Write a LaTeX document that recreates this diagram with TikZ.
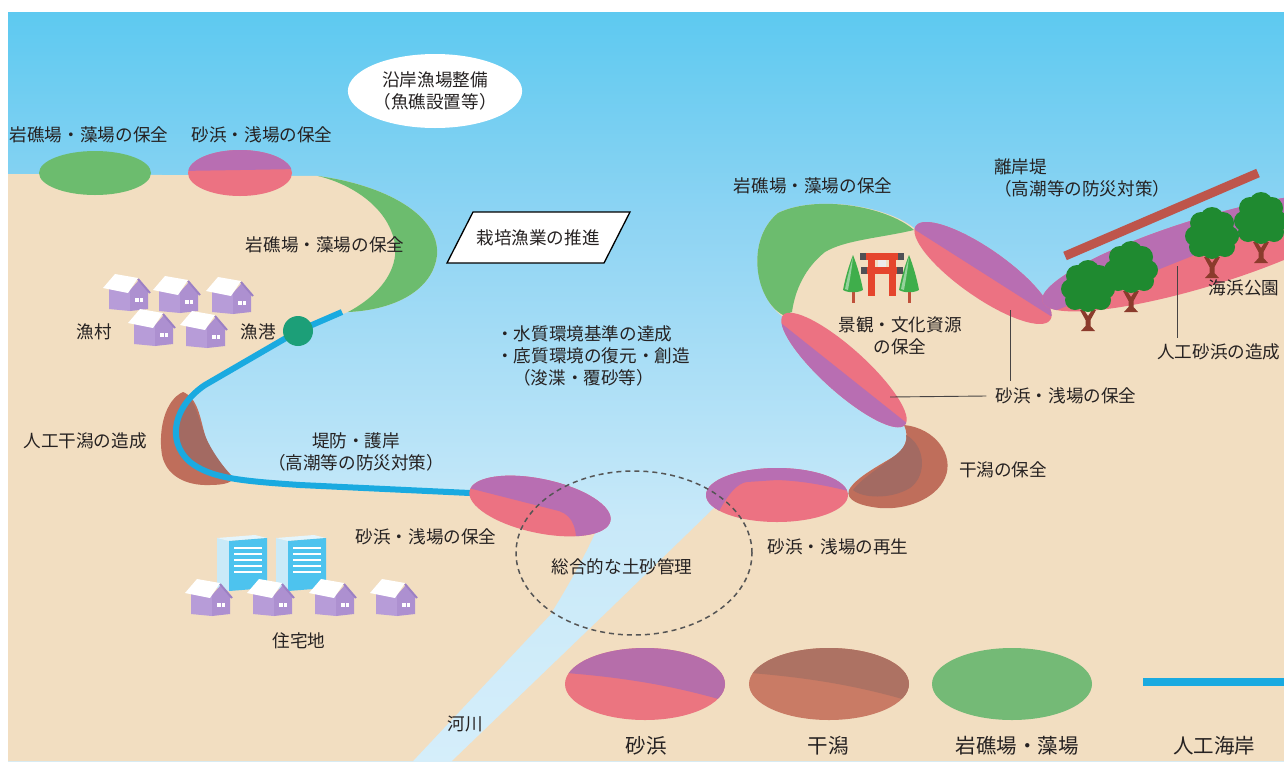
\documentclass[tikz,border=0pt]{standalone}
\usepackage{fontspec}
\setmainfont{Noto Sans CJK JP}
\usetikzlibrary{shapes.geometric}

% palette
\definecolor{ink}{HTML}{262222}
\definecolor{land}{HTML}{F2DEC1}
\definecolor{pinkc}{HTML}{EC7282}
\definecolor{purpc}{HTML}{B86EB2}
\definecolor{greenc}{HTML}{6CBC6E}
\definecolor{brownA}{HTML}{BF6E5B}
\definecolor{brownB}{HTML}{A36A62}
\definecolor{legpink}{HTML}{EB7580}
\definecolor{legpurp}{HTML}{B66EAA}
\definecolor{legbrownTop}{HTML}{AD7263}
\definecolor{legbrownBot}{HTML}{C97B65}
\definecolor{leggreen}{HTML}{74BA76}
\definecolor{wallblue}{HTML}{1AAAE0}
\definecolor{portgreen}{HTML}{1C9F78}
\definecolor{breakred}{HTML}{BE554B}
\definecolor{toriired}{HTML}{E5452D}
\definecolor{toridark}{HTML}{505055}
\definecolor{cyp}{HTML}{3FAE4B}
\definecolor{cyptrunk}{HTML}{C0503A}
\definecolor{treeg}{HTML}{1F8A30}
\definecolor{trunk}{HTML}{8B3B2C}
\definecolor{houseside}{HTML}{B79CD8}
\definecolor{housefront}{HTML}{AD90D0}
\definecolor{houserake}{HTML}{9C80C4}
\definecolor{bldfront}{HTML}{4DC3EE}
\definecolor{bldside}{HTML}{C9EAF8}
\definecolor{bldtop}{HTML}{E4F5FC}
\definecolor{dashgray}{HTML}{555555}
\definecolor{seaA}{HTML}{EAF6FC}
\definecolor{seaB}{HTML}{D8EFFA}
\definecolor{seaC}{HTML}{C8E9F9}
\definecolor{seaD}{HTML}{8ED4F3}
\definecolor{seaE}{HTML}{45C4EF}
\definecolor{seaF}{HTML}{36C0EE}

\pgfdeclareverticalshading{seagrad}{100bp}{color(0bp)=(seaA); color(21bp)=(seaB); color(41bp)=(seaC); color(61bp)=(seaD); color(82bp)=(seaE); color(100bp)=(seaF)}

% two-coloured shore patch: x, y, angle, rx, ry, base colour, upper colour, upper region
\newcommand{\twotone}[8]{%
  \begin{scope}[shift={(#1,#2)},rotate=#3]
    \fill[#6] (0,0) ellipse ({#4} and {#5});
    \begin{scope}
      \clip (0,0) ellipse ({#4} and {#5});
      \fill[#7] #8;
    \end{scope}
  \end{scope}}

% small house, anchored at bottom centre
\newcommand{\fishhouse}[2]{%
  \begin{scope}[shift={(#1,#2)}]
    \fill[houseside] (-18,-1) -- (3,1) -- (3,-20) -- (-18,-22) -- cycle;
    \fill[housefront] (3,1) -- (21,-1) -- (21,-19) -- (12,-30) -- (3,-20) -- cycle;
    \fill[white] (11,-32) -- (-12,-36) -- (-24,-22) -- (1,-17) -- cycle;
    \draw[houserake, line width=2pt] (11,-31) -- (23,-17);
    \fill[white] (8,-12) rectangle (11.5,-8);
    \fill[white] (12.5,-12) rectangle (16,-8);
  \end{scope}}

% apartment block, anchored at top left
\newcommand{\cityblock}[2]{%
  \begin{scope}[shift={(#1,#2)}]
    \fill[bldside] (0,3) -- (12,6) -- (12,56) -- (0,53) -- cycle;
    \fill[bldtop] (0,3) -- (38,0) -- (50,3) -- (12,6) -- cycle;
    \fill[bldfront] (12,6) -- (50,3) -- (50,53) -- (12,56) -- cycle;
    \foreach \yy in {13,19,25,31,37} \draw[white, line width=2.2pt] (17,\yy) -- (45,\yy);
  \end{scope}}

% broad-leaved tree, anchored at crown centre
\newcommand{\parktree}[2]{%
  \begin{scope}[shift={(#1,#2)}]
    \fill[trunk] (-8,23) -- (-4,23) -- (0,29) -- (4,23) -- (8,23) -- (2.5,33) -- (2.5,39) -- (7,44) -- (-7,44) -- (-2.5,39) -- (-2.5,33) -- cycle;
    \fill[treeg] (0,-15) circle (12) (-11,-11) circle (11) (11,-11) circle (11)
      (-17,2) circle (10) (17,2) circle (10) (0,0) circle (17)
      (-13,13) circle (10) (13,13) circle (10) (0,14) circle (11);
  \end{scope}}

% conifer beside the shrine gate, anchored at trunk foot
\newcommand{\sugitree}[2]{%
  \begin{scope}[shift={(#1,#2)}]
    \fill[cyptrunk] (-1.5,-12) rectangle (1.5,0);
    \fill[cyp] (0,-48) .. controls (4,-38) and (8,-24) .. (10,-13) .. controls (5,-10) and (-5,-10) .. (-10,-13) .. controls (-8,-24) and (-4,-38) .. (0,-48) -- cycle;
    \fill[cyp!55!white] (0,-46) .. controls (-3,-36) and (-6,-24) .. (-8,-14) -- (-5,-13) .. controls (-3,-24) and (-1,-36) .. (0,-46) -- cycle;
  \end{scope}}

\begin{document}
\begin{tikzpicture}[x=1pt,y=-1pt,
  lbl/.style={font=\fontsize{17.6}{22}\selectfont, text=ink, inner sep=0pt, align=center},
  leglbl/.style={font=\fontsize{20.5}{24}\selectfont, text=ink, inner sep=0pt},
  leader/.style={draw=ink!85, line width=0.9pt},
  seawall/.style={draw=wallblue, line width=6pt},
]
\useasboundingbox (0,0) rectangle (1284,761);
\fill[white] (0,0) rectangle (1284,761);
\shade[shading=seagrad] (8,12) rectangle (1284,761);

% ---------- land ----------
\fill[land] (8,174) -- (318,176) .. controls (385,185) and (440,215) .. (437,255)
  .. controls (433,290) and (395,310) .. (348,312) -- (298,331) -- (205,385)
  .. controls (175,405) and (165,440) .. (190,462) .. controls (210,478) and (240,481) .. (300,485)
  -- (470,493) -- (600,522) .. controls (590,545) and (575,575) .. (550,615) -- (413,761) -- (8,761) -- cycle;

\fill[land] (452,761) -- (609,610) -- (714,508) -- (850,495) -- (849,490)
  .. controls (855,478) and (880,465) .. (893,457) .. controls (905,450) and (910,438) .. (904,425)
  -- (785,318) .. controls (755,300) and (745,240) .. (778,213) .. controls (815,195) and (885,205) .. (914,228)
  -- (1049,318) -- (1042,302) -- (1284,228) -- (1284,761) -- cycle;

% ---------- left shore ----------
\fill[brownA] (183,392) .. controls (165,400) and (158,430) .. (162,455) .. controls (166,475) and (185,486) .. (210,485)
  .. controls (225,485) and (235,482) .. (232,476) .. controls (222,465) and (210,452) .. (205,435)
  .. controls (200,418) and (198,398) .. (183,392) -- cycle;
\fill[brownB] (188,396) .. controls (197,405) and (200,425) .. (207,440) .. controls (214,455) and (225,468) .. (232,478)
  .. controls (210,476) and (190,468) .. (180,455) .. controls (172,440) and (173,415) .. (188,396) -- cycle;

\coordinate (swN) at (342,312);
\coordinate (portc) at (298,331);
\coordinate (swE) at (470,493);
\draw[seawall] (swN) -- (portc) -- (205,385) .. controls (175,405) and (165,440) .. (190,462)
  .. controls (210,478) and (240,481) .. (300,485) -- (swE);
\node[circle, fill=portgreen, minimum size=30pt, inner sep=0pt] (port) at (portc) {};

\fill[greenc] (95,173) ellipse (56 and 22);
\twotone{240}{173}{0}{52}{23}{pinkc}{purpc}{(-60,-30) -- (-60,-2) -- (60,-4) -- (60,-30) -- cycle}
\fill[greenc] (318,176) .. controls (385,185) and (440,215) .. (437,255) .. controls (433,290) and (395,310) .. (348,312)
  .. controls (380,295) and (398,270) .. (395,245) .. controls (390,210) and (355,185) .. (318,176) -- cycle;

\twotone{540}{506}{-12}{72}{27}{pinkc}{purpc}{(-80,-40) -- (-80,-3) -- (20,1) .. controls (35,3) and (42,15) .. (45,40) -- (80,40) -- (80,-40) -- cycle}
\twotone{777}{495}{0}{71}{27}{pinkc}{purpc}{(-80,-40) -- (-80,40) -- (-62,40) -- (-61,22) .. controls (-50,0) and (-40,-12) .. (-30,-13) -- (0,-15) .. controls (30,-14) and (55,-8) .. (80,-2) -- (80,-40) -- cycle}

% ---------- right shore ----------
\fill[brownA] (904,425) .. controls (935,428) and (955,455) .. (945,478) .. controls (935,500) and (905,510) .. (880,508)
  .. controls (860,506) and (845,500) .. (849,490) .. controls (855,478) and (880,465) .. (893,457)
  .. controls (905,450) and (910,438) .. (904,425) -- cycle;
\fill[brownB] (906,435) .. controls (925,445) and (928,475) .. (910,488) .. controls (890,500) and (862,498) .. (853,490)
  .. controls (862,478) and (882,466) .. (893,457) .. controls (903,450) and (908,442) .. (906,435) -- cycle;

\fill[greenc] (783,315) .. controls (755,300) and (745,240) .. (778,213) .. controls (815,195) and (885,205) .. (914,230)
  .. controls (880,238) and (845,240) .. (825,252) .. controls (805,268) and (795,290) .. (792,312) -- cycle;

\twotone{844}{370}{-42}{82}{22}{pinkc}{purpc}{(-90,8) -- (90,-3) -- (90,40) -- (-90,40) -- cycle}
\twotone{983}{273}{-35}{82}{24}{pinkc}{purpc}{(-90,-40) -- (-90,4) -- (90,-4) -- (90,-40) -- cycle}
\twotone{1205}{252}{17}{170}{34}{pinkc}{purpc}{(-180,-50) -- (-180,14) -- (180,-16) -- (180,-50) -- cycle}

% detached breakwater
\coordinate (bwA) at (1065,256);
\coordinate (bwB) at (1258,173);
\draw[breakred, line width=9pt] (bwA) -- (bwB);

% seaside park trees
\parktree{1088}{287}
\parktree{1131}{268}
\parktree{1212}{234}
\parktree{1261}{219}

% shrine gate with conifers
\sugitree{853}{303}
\sugitree{909}{303}
\fill[toriired] (868,258) rectangle (875,296);
\fill[toriired] (889,258) rectangle (896,296);
\fill[toriired] (860,253) rectangle (904,260);
\fill[toridark] (860,253) rectangle (866,260);
\fill[toridark] (898,253) rectangle (904,260);
\fill[toriired] (861,267) rectangle (903,274);
\fill[toridark] (861,267) rectangle (867,274);
\fill[toridark] (897,267) rectangle (903,274);
\fill[white!85!gray] (878,260) rectangle (886,267);

% ---------- settlements ----------
\fishhouse{127}{310}
\fishhouse{177}{312}
\fishhouse{230}{313}
\fishhouse{152}{345}
\fishhouse{204}{347}

\cityblock{217}{535}
\cityblock{276}{535}
\fishhouse{209}{615}
\fishhouse{271}{615}
\fishhouse{333}{615}
\fishhouse{394}{615}

% ---------- legend ----------
\twotone{645}{684}{0}{80}{36}{legpink}{legpurp}{(-90,-50) -- (-90,-12) .. controls (-40,-8) and (20,-2) .. (90,20) -- (90,-50) -- cycle}
\twotone{829}{684}{0}{80}{36}{legbrownBot}{legbrownTop}{(-90,-50) -- (-90,-12) .. controls (-40,-8) and (20,-2) .. (90,20) -- (90,-50) -- cycle}
\fill[leggreen] (1012,684) ellipse (80 and 36);
\coordinate (legA) at (1143,682);
\coordinate (legB) at (1284,682);
\draw[draw=wallblue, line width=8pt] (legA) -- (legB);

% ---------- sediment management ----------
\node[ellipse, draw=dashgray, dash pattern=on 5pt off 4pt, line width=1.5pt,
  minimum width=236pt, minimum height=164pt, inner sep=0pt] (doshaE) at (634,553) {};

% ---------- boxes ----------
\node[ellipse, fill=white, minimum width=156pt, minimum height=74pt, lbl] (gyojo) at (435,91) {沿岸漁場整備\\（魚礁設置等）};
\draw[line width=1.3pt, fill=white] (447,263) -- (473,212) -- (630,212) -- (604,263) -- cycle;
\node[lbl] (saibai) at (538,238) {栽培漁業の推進};

% ---------- labels ----------
\node[lbl] (iwaL) at (89,135) {岩礁場・藻場の保全};
\node[lbl] (hamaT) at (262,135) {砂浜・浅場の保全};
\node[lbl] (iwaM) at (325,245) {岩礁場・藻場の保全};
\node[lbl] (gyoson) at (94,332) {漁村};
\node[lbl] (gyoko) at (258,332) {漁港};
\node[lbl, anchor=west, align=left] (water) at (496,356) {・水質環境基準の達成\\・底質環境の復元・創造\\\hspace*{17pt}（浚渫・覆砂等）};
\node[lbl] (higataL) at (85,441) {人工干潟の造成};
\node[lbl] (teibo) at (356,452) {堤防・護岸\\（高潮等の防災対策）};
\node[lbl] (hamaL) at (426,537) {砂浜・浅場の保全};
\node[lbl] (dosha) at (622,567) {総合的な土砂管理};
\node[lbl] (saisei) at (838,547) {砂浜・浅場の再生};
\node[lbl] (higataR) at (1003,470) {干潟の保全};
\node[lbl] (hamaR) at (1066,396) {砂浜・浅場の保全};
\node[lbl] (keikan) at (900,336) {景観・文化資源\\の保全};
\node[lbl] (iwaR) at (813,186) {岩礁場・藻場の保全};
\node[lbl, anchor=west, align=left] (rigan) at (994,178) {離岸堤\\（高潮等の防災対策）};
\node[lbl] (koen) at (1244,288) {海浜公園};
\node[lbl, anchor=west] (jinko) at (1157,352) {人工砂浜の造成};
\node[lbl] (jutaku) at (299,641) {住宅地};
\node[lbl] (kasen) at (465,724) {河川};

\node[leglbl] (legSuna) at (646,746) {砂浜};
\node[leglbl] (legHigata) at (828,746) {干潟};
\node[leglbl] (legIwa) at (1017,746) {岩礁場・藻場};
\node[leglbl] (legKaigan) at (1214,746) {人工海岸};

% ---------- leader lines ----------
\coordinate (ldA) at (890,397);
\coordinate (ldB) at (1010,310);
\coordinate (ldC) at (1177,266);
\draw[leader] (ldA) -- ([xshift=-9pt]hamaR.west);
\draw[leader, shorten >=7pt] (ldB) -- (ldB |- hamaR.north);
\draw[leader, shorten >=6pt] (ldC) -- (ldC |- jinko.north);
\end{tikzpicture}
\end{document}
